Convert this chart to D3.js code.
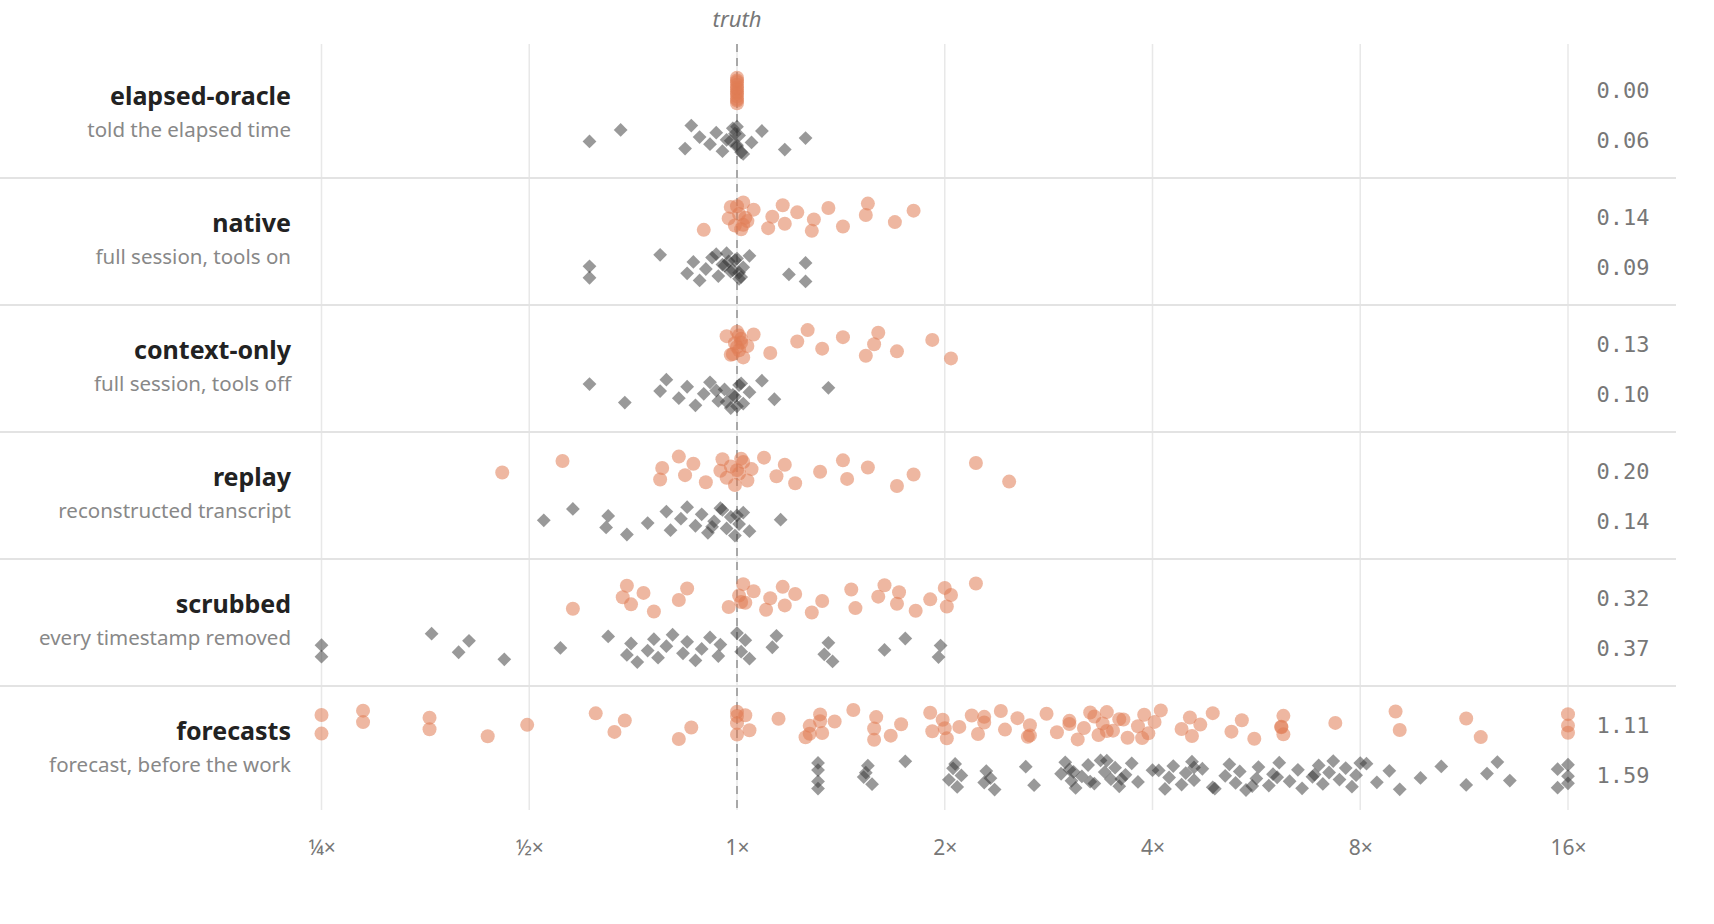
<!DOCTYPE html>
<html><head><meta charset="utf-8">
<script src="https://cdn.jsdelivr.net/npm/d3@7"></script>
<style>body{margin:0;background:#fff}svg{display:block}</style>
</head><body><svg id="c" width="1714" height="924"></svg>
<script>
// log2 ratio estimate/truth
const rows = ["elapsed-oracle","native","context-only","replay","scrubbed","forecasts"];
const subtitles = ["told the elapsed time","full session, tools on","full session, tools off","reconstructed transcript","every timestamp removed","forecast, before the work"];
const scoreA = ["0.00","0.14","0.13","0.20","0.32","1.11"];
const scoreB = ["0.06","0.09","0.10","0.14","0.37","1.59"];
const tickVals = [0.25,0.5,1,2,4,8,16];
const tickLabels = ["¼×","½×","1×","2×","4×","8×","16×"];
const orange = [
 [0,0,0,0,0,0,0,0,0,0,0,0],
 [-0.16,-0.04,-0.03,-0.01,0.01,0.03,0.05,0.08,0.15,0.17,0.22,0.23,0.29,0.36,0.37,0.44,0.51,0.62,0.63,0.76,0.85,0.02,0.04,0.0,0.03],
 [-0.05,-0.03,-0.01,0,0.01,0.02,0.03,0.05,0.08,0.16,0.29,0.34,0.41,0.51,0.62,0.66,0.68,0.77,0.94,1.03,0,0.01,-0.02,0.02],
 [-1.13,-0.84,-0.37,-0.36,-0.28,-0.25,-0.21,-0.15,-0.08,-0.07,-0.05,-0.03,-0.01,0.01,0.03,0.05,0.07,0.13,0.19,0.23,0.28,0.4,0.51,0.53,0.63,0.77,0.85,1.15,1.31,0.0,0.02],
 [-0.79,-0.55,-0.53,-0.51,-0.45,-0.4,-0.28,-0.24,-0.04,0.01,0.03,0.04,0.08,0.14,0.16,0.22,0.23,0.28,0.36,0.41,0.55,0.57,0.68,0.71,0.77,0.78,0.86,0.93,1.0,1.01,1.03,1.15,0.02],
 [-2,-2,-1.8,-1.8,-1.48,-1.48,-1.2,-1.01,-0.68,-0.59,-0.54,-0.28,-0.22,0,0,0,0,0.06,0.2,0.33,0.35,0.4,0.41,0.47,0.56,0.66,0.67,0.74,0.79,0.93,0.94,0.99,1.01,1.07,1.13,1.16,1.19,1.27,1.29,1.35,1.4,1.41,1.49,1.54,1.6,1.64,1.67,1.72,1.74,1.76,1.78,1.81,1.84,1.88,1.93,1.96,1.98,2.01,2.04,2.14,2.18,2.19,2.23,2.29,2.38,2.43,2.49,2.62,2.63,2.63,2.88,3.17,3.19,3.51,3.58,4,4,4,0.4,0.66,1.0,1.19,1.41,1.6,1.7,1.78,1.86,1.95,2.62,0.04,0.35]
];
const grey = [
 [-0.71,-0.56,-0.25,-0.18,-0.22,-0.13,-0.1,-0.07,-0.05,-0.02,0,0.01,0.03,0.07,0.12,0.23,0.33,0,0,-0.01,0.02,-0.03],
 [-0.71,-0.71,-0.37,-0.24,-0.21,-0.18,-0.15,-0.12,-0.09,-0.07,-0.05,-0.03,-0.01,0.01,0.03,0.06,0.25,0.33,0.33,-0.02,0,0.02,-0.06,-0.1,0.01,-0.04],
 [-0.71,-0.54,-0.37,-0.34,-0.28,-0.24,-0.2,-0.16,-0.13,-0.09,-0.06,-0.03,-0.01,0.01,0.03,0.06,0.12,0.18,0.44,0,-0.02,0.02,-0.05,-0.1],
 [-0.93,-0.79,-0.63,-0.62,-0.53,-0.43,-0.34,-0.32,-0.27,-0.24,-0.2,-0.17,-0.14,-0.11,-0.07,-0.05,-0.03,-0.01,0.01,0.03,0.06,0.21,-0.08,-0.12,0.0],
 [-2,-2,-1.47,-1.34,-1.29,-1.12,-0.85,-0.62,-0.53,-0.51,-0.48,-0.43,-0.4,-0.38,-0.34,-0.31,-0.26,-0.24,-0.2,-0.17,-0.13,-0.09,-0.08,0,0.02,0.04,0.06,0.17,0.19,0.42,0.44,0.46,0.71,0.81,0.97,0.98],
 [0.39,0.39,0.39,0.39,0.61,0.63,0.65,0.62,0.81,1.02,1.04,1.06,1.08,1.05,1.19,1.2,1.24,1.22,1.39,1.43,1.56,1.58,1.61,1.6,1.63,1.66,1.69,1.72,1.77,1.78,1.8,1.82,1.84,1.87,1.9,1.93,2.03,2.06,2.08,2.1,2.14,2.16,2.19,2.2,2.24,2.29,2.35,2.37,2.4,2.42,2.45,2.5,2.51,2.56,2.58,2.61,2.66,2.7,2.72,2.77,2.8,2.82,2.85,2.87,2.9,2.93,2.96,2.98,3.03,3.08,3.14,3.19,3.29,3.39,3.51,3.61,3.66,3.72,3.95,3.95,4,4,4,1.62,1.75,1.85,2.2,2.48,2.78,3.0,1.7,2.0,2.3,2.6]
];

const svg = d3.select("#c");
const x = d3.scaleLog().base(2).domain([0.25,16]).range([321.5,1568]);
const top0 = 51, rh = 127;
const y = d3.scaleBand().domain(rows).range([top0, top0 + rh*rows.length]);
const jit = (i, s) => ((((i+1)*0.6180339887 + s*0.31) % 1) - 0.5) * 30;

svg.append("g").selectAll("line").data(tickVals).join("line")
  .attr("x1", d=>x(d)).attr("x2", d=>x(d)).attr("y1",44).attr("y2",810)
  .attr("stroke","#e8e8e8").attr("stroke-width",1.5);
svg.append("g").selectAll("line").data(rows.slice(1)).join("line")
  .attr("x1",0).attr("x2",1676).attr("y1",d=>y(d)).attr("y2",d=>y(d))
  .attr("stroke","#e3e3e3").attr("stroke-width",2);
svg.append("line").attr("x1",x(1)).attr("x2",x(1)).attr("y1",44).attr("y2",810)
  .attr("stroke","#a8a8a8").attr("stroke-width",2).attr("stroke-dasharray","8,6");
svg.append("text").attr("x",x(1)).attr("y",27).attr("text-anchor","middle")
  .attr("font-family","Noto Sans").attr("font-style","italic").attr("font-size",22).attr("fill","#777").text("truth");

const ax = d3.axisBottom(x).tickValues(tickVals).tickFormat((d,i)=>tickLabels[i]).tickSize(0).tickPadding(0);
const ag = svg.append("g").attr("transform","translate(0,840)").call(ax);
ag.select(".domain").remove();
ag.selectAll("text").attr("font-family","Noto Sans").attr("font-size",21).attr("fill","#777");

rows.forEach((r, ri) => {
  const t = y(r);
  const g = svg.append("g");
  g.append("text").attr("x",291).attr("y",t+54).attr("text-anchor","end")
    .attr("font-family","Noto Sans").attr("font-weight","bold").attr("font-size",25).attr("fill","#222").text(r);
  g.append("text").attr("x",291).attr("y",t+86).attr("text-anchor","end")
    .attr("font-family","Noto Sans").attr("font-size",20.5).attr("fill","#888").text(subtitles[ri]);
  g.append("text").attr("x",1623).attr("y",t+47).attr("text-anchor","middle")
    .attr("font-family","DejaVu Sans Mono").attr("font-size",22).attr("fill","#777").text(scoreA[ri]);
  g.append("text").attr("x",1623).attr("y",t+97).attr("text-anchor","middle")
    .attr("font-family","DejaVu Sans Mono").attr("font-size",22).attr("fill","#777").text(scoreB[ri]);
  g.append("g").selectAll("circle").data(orange[ri]).join("circle")
    .attr("cx", d=>x(Math.pow(2,d))).attr("cy",(d,i)=>t+39+jit(i,ri))
    .attr("r",7).attr("fill","#e07b54").attr("fill-opacity",0.55);
  g.append("g").selectAll("path").data(grey[ri]).join("path")
    .attr("d", d3.symbol(d3.symbolSquare, 95))
    .attr("transform",(d,i)=>`translate(${x(Math.pow(2,d))},${t+89+jit(i,ri+3)}) rotate(45)`)
    .attr("fill","#333").attr("fill-opacity",0.5);
});
</script></body></html>
